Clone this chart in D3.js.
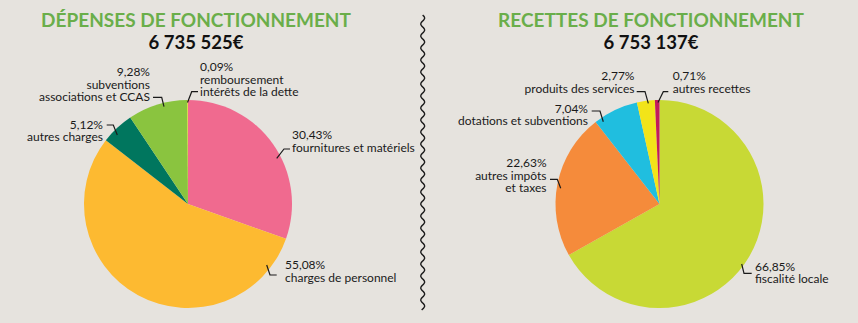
<!DOCTYPE html>
<html><head><meta charset="utf-8">
<script src="https://cdn.jsdelivr.net/npm/d3@7"></script>
<style>
html,body{margin:0;padding:0;background:#E6E3DE;}
svg{display:block;}
text{font-family:Lato,"Open Sans",sans-serif;}
</style></head>
<body>
<script>
// ---- data ----
const depTitle = "DÉPENSES DE FONCTIONNEMENT";
const depTotal = "6 735 525€";
const depCategories = ["fournitures et matériels","charges de personnel","autres charges","subventions associations et CCAS","remboursement intérêts de la dette"];
const depValues = [30.43, 55.08, 5.12, 9.28, 0.09];
const depLabelLines = [["fournitures et matériels"],["charges de personnel"],["autres charges"],["subventions","associations et CCAS"],["remboursement","intérêts de la dette"]];
const depColors = ["#F06A8F","#FDBA31","#00765E","#8AC43F","#EFE21C"];

const recTitle = "RECETTES DE FONCTIONNEMENT";
const recTotal = "6 753 137€";
const recCategories = ["fiscalité locale","autres impôts et taxes","dotations et subventions","produits des services","autres recettes"];
const recValues = [66.85, 22.63, 7.04, 2.77, 0.71];
const recLabelLines = [["fiscalité locale"],["autres impôts","et taxes"],["dotations et subventions"],["produits des services"],["autres recettes"]];
const recColors = ["#C8D935","#F58B3B","#20BEDF","#F2E419","#C21A5C"];

// ---- layout (annotation placement relative to pie centre) ----
const depLayout = [
  {anchor:"start", x:104, y:-65, leader:[[102,-55],[96,-55],[88.7,-45.7]]},
  {anchor:"start", x:97, y:65, leader:[[78.7,61],[82,71],[88.7,71]]},
  {anchor:"end", x:-85, y:-75.5, leader:[[-81.3,-79],[-74.7,-79],[-70.7,-69]]},
  {anchor:"end", x:-38, y:-128, leader:[[-35,-106.7],[-26.3,-106.7],[-24,-97.3]]},
  {anchor:"start", x:12, y:-133, leader:[[10,-112.3],[3.7,-112.3],[-0.5,-101.5]]}
];
const recLayout = [
  {anchor:"start", x:95.5, y:66.5, leader:[[82.2,60],[84.5,69.3],[92.2,69.3]]},
  {anchor:"end", x:-113, y:-37, leader:[[-109.5,-24.7],[-102.2,-24.7],[-98.8,-15.7]]},
  {anchor:"end", x:-71.5, y:-91.5, leader:[[-67.8,-93],[-59.5,-93],[-56.2,-82.3]]},
  {anchor:"end", x:-25, y:-124, leader:[[-22.8,-112.3],[-14.5,-112.3],[-11.2,-100.7]]},
  {anchor:"start", x:13.2, y:-124, leader:[[8.8,-112.3],[3.8,-112.3],[-1.5,-101.5]]}
];

const W = 858, H = 323, R = 104;
const LINE = 12.5;
const fmt = v => d3.format(".2f")(v).replace(".", ",") + "%";

const svg = d3.select("body").append("svg").attr("width", W).attr("height", H);

function drawPanel(cx, titleX, title, total, cats, vals, lines, colors, layout) {
  svg.append("text").attr("x", titleX).attr("y", 27).attr("text-anchor","middle")
    .attr("font-size", 19).attr("font-weight", 700).attr("fill", "#6AAE4A").text(title);
  svg.append("text").attr("x", titleX).attr("y", 49).attr("text-anchor","middle")
    .attr("font-size", 18.5).attr("font-weight", 700).attr("fill", "#111").text(total);

  const g = svg.append("g").attr("transform", `translate(${cx},204)`);
  const pie = d3.pie().sort(null).value(d => d)(vals);
  const arc = d3.arc().innerRadius(0).outerRadius(R);
  const color = d3.scaleOrdinal().domain(cats).range(colors);
  g.selectAll("path.slice").data(pie).join("path").attr("class","slice")
    .attr("d", arc).attr("fill", (d,i) => color(cats[i]));

  const lineGen = d3.line();
  layout.forEach((L, i) => {
    g.append("path").attr("d", lineGen(L.leader)).attr("fill","none")
      .attr("stroke","#1a1a1a").attr("stroke-width",1.2);
    const all = [fmt(vals[i])].concat(lines[i]);
    all.forEach((s, k) => {
      g.append("text").attr("text-anchor", L.anchor).attr("font-size", 12).attr("fill","#1a1a1a")
        .attr("x", L.x).attr("y", L.y + k*LINE).text(s);
    });
  });
}

drawPanel(188, 196, depTitle, depTotal, depCategories, depValues, depLabelLines, depColors, depLayout);
drawPanel(659.5, 651, recTitle, recTotal, recCategories, recValues, recLabelLines, recColors, recLayout);

// wavy divider
const waveY = d3.range(15, 310.5, 1);
const wave = d3.line().curve(d3.curveBasis)(waveY.map(y => [422.7 + 2*Math.sin((y-15)/12*2*Math.PI), y]));
svg.append("path").attr("d", wave).attr("fill","none").attr("stroke","#1a1a1a").attr("stroke-width",1.4);
</script>
</body></html>
